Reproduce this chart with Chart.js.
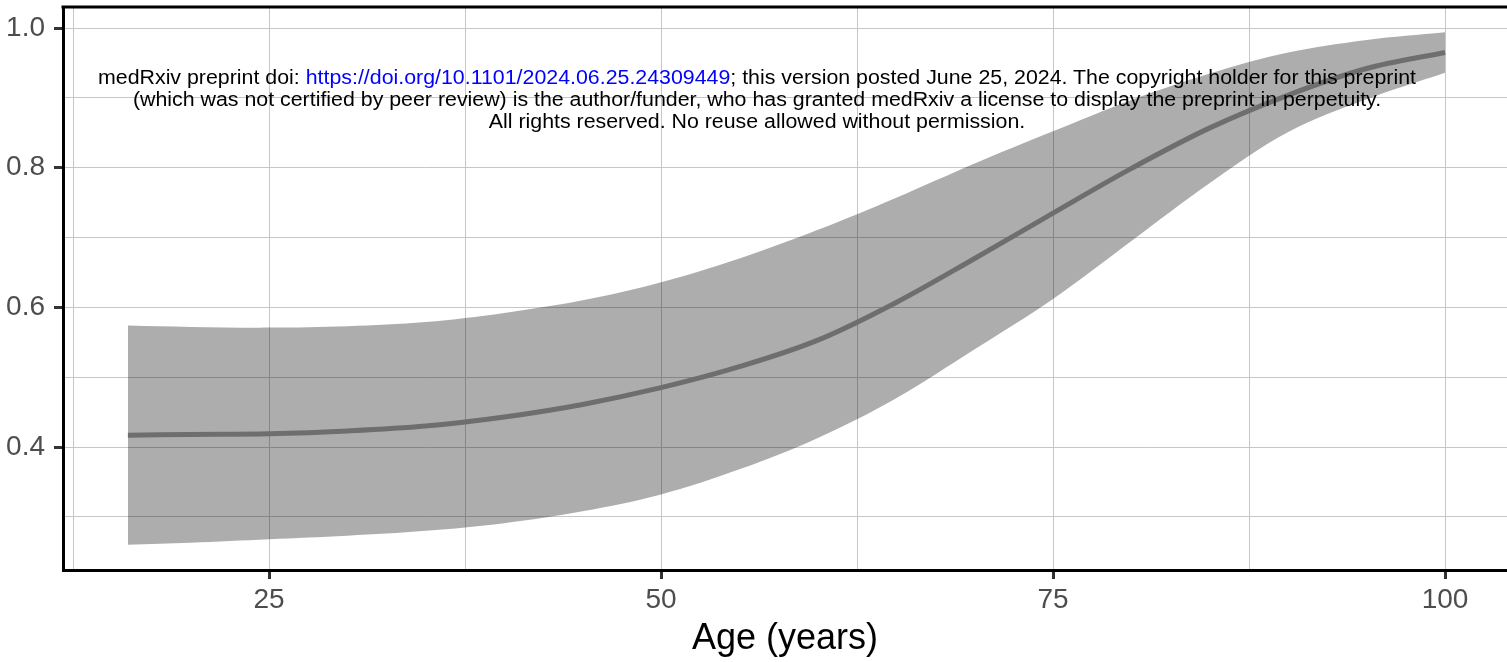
<!DOCTYPE html>
<html>
<head>
<meta charset="utf-8">
<script src="https://cdn.jsdelivr.net/npm/chart.js@4/dist/chart.umd.min.js"></script>
<style>
  body { margin: 0; background: #fff; }
  #wrap { position: relative; width: 1507px; height: 662px; }
  #note {
    position: absolute; left: 0; top: 66px; width: 1514px;
    text-align: center; font-family: "Liberation Sans", Arial, sans-serif;
    font-size: 20px; line-height: 22px; color: #000; pointer-events: none;
    transform-origin: 757px 0;
  }
  #note a { color: #0000ff; text-decoration: none; }
  #note span { white-space: nowrap; }
</style>
</head>
<body>
<div id="wrap">
  <canvas id="chart"></canvas>
  <div id="note">
    <span id="l1">medRxiv preprint doi: <a>https://doi.org/10.1101/2024.06.25.24309449</a>; this version posted June 25, 2024. The copyright holder for this preprint</span><br>
    <span>(which was not certified by peer review) is the author/funder, who has granted medRxiv a license to display the preprint in perpetuity.</span><br>
    <span>All rights reserved. No reuse allowed without permission.</span>
  </div>
</div>
<script>
const ages = [16, 20, 25, 30, 35, 40, 45, 50, 55, 60, 65, 70, 75, 80, 85, 90, 95, 100];
const fitted = [0.417, 0.418, 0.419, 0.423, 0.430, 0.443, 0.461, 0.485, 0.515, 0.553, 0.607, 0.670, 0.735, 0.799, 0.857, 0.904, 0.942, 0.965];
const upper = [0.574, 0.572, 0.571, 0.573, 0.579, 0.592, 0.610, 0.636, 0.670, 0.711, 0.757, 0.806, 0.852, 0.897, 0.935, 0.965, 0.983, 0.994];
const lower = [0.260, 0.263, 0.268, 0.273, 0.280, 0.291, 0.308, 0.332, 0.368, 0.413, 0.470, 0.540, 0.612, 0.695, 0.778, 0.851, 0.898, 0.936];

const xGrid = [12.5, 25, 37.5, 50, 62.5, 75, 87.5, 100];
const xLabels = [25, 50, 75, 100];
const yGrid = [0.3, 0.4, 0.5, 0.6, 0.7, 0.8, 0.9, 1.0];
const yLabels = [0.4, 0.6, 0.8, 1.0];

const isMajor = (list, v) => list.some(m => Math.abs(m - v) < 1e-6);
const pts = arr => ages.map((a, i) => ({ x: a, y: arr[i] }));

const topBorder = {
  id: "topBorder",
  afterDraw(chart) {
    const { ctx, chartArea } = chart;
    ctx.save();
    ctx.strokeStyle = "#000";
    ctx.lineWidth = 3;
    ctx.beginPath();
    ctx.moveTo(chartArea.left - 1.5, chartArea.top);
    ctx.lineTo(chart.width, chartArea.top);
    ctx.stroke();
    ctx.restore();
  },
};

Chart.defaults.font.family = '"Liberation Sans", Arial, sans-serif';

new Chart(document.getElementById("chart"), {
  type: "line",
  data: {
    datasets: [
      {
        label: "upper",
        data: pts(upper),
        borderWidth: 0,
        pointRadius: 0,
        backgroundColor: "rgba(0,0,0,0.32)",
        fill: "+1",
        tension: 0.35,
        order: 2,
      },
      {
        label: "lower",
        data: pts(lower),
        borderWidth: 0,
        pointRadius: 0,
        fill: false,
        tension: 0.35,
        order: 2,
      },
      {
        label: "fit",
        data: pts(fitted),
        borderColor: "#6e6e6e",
        borderWidth: 5,
        pointRadius: 0,
        fill: false,
        tension: 0.35,
        order: 0,
      },
    ],
  },
  options: {
    responsive: true,
    maintainAspectRatio: false,
    animation: false,
    layout: { padding: { top: 7, right: 0, left: 0, bottom: 0 } },
    plugins: { legend: { display: false }, tooltip: { enabled: false } },
    scales: {
      x: {
        type: "linear",
        min: 11.862,
        max: 103.95,
        afterBuildTicks: s => { s.ticks = xGrid.map(v => ({ value: v })); },
        afterFit: s => { s.height = 92; s.paddingLeft = 0; s.paddingRight = 0; },
        grid: {
          color: "#c6c6c6",
          lineWidth: 1,
          tickLength: 9,
          tickWidth: 3,
          tickColor: c => (c.tick && isMajor(xLabels, c.tick.value) ? "#333" : "rgba(0,0,0,0)"),
        },
        border: { display: true, color: "#000", width: 3 },
        ticks: {
          autoSkip: false,
          maxRotation: 0,
          padding: 4,
          color: "#4d4d4d",
          font: { size: 28 },
          callback: v => (isMajor(xLabels, v) ? String(v) : ""),
        },
        title: {
          display: true,
          text: "Age (years)",
          color: "#000",
          font: { size: 36 },
          padding: { top: 0, bottom: 1 },
        },
      },
      y: {
        type: "linear",
        min: 0.2239,
        max: 1.0301,
        afterBuildTicks: s => { s.ticks = yGrid.map(v => ({ value: v })); },
        afterFit: s => { s.width = 63; s.paddingTop = 0; s.paddingBottom = 0; },
        grid: {
          color: "#c6c6c6",
          lineWidth: 1,
          tickLength: 9,
          tickWidth: 3,
          tickColor: c => (c.tick && isMajor(yLabels, c.tick.value) ? "#333" : "rgba(0,0,0,0)"),
        },
        border: { display: true, color: "#000", width: 3 },
        ticks: {
          autoSkip: false,
          padding: 9,
          color: "#4d4d4d",
          font: { size: 28 },
          callback: v => (isMajor(yLabels, v) ? v.toFixed(1) : ""),
        },
      },
    },
  },
  plugins: [topBorder],
});

// squeeze the watermark text to the width seen in the reference
const note = document.getElementById("note");
const w1 = document.getElementById("l1").getBoundingClientRect().width;
note.style.transform = "scaleX(" + (1318 / w1) + ")";
</script>
</body>
</html>
